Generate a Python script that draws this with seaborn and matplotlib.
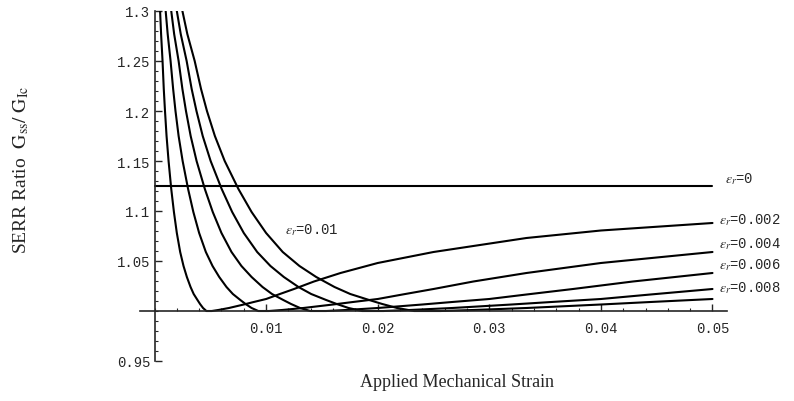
import matplotlib
matplotlib.use("Agg")
import matplotlib.pyplot as plt
import pandas as pd
import seaborn as sns
from matplotlib.ticker import MultipleLocator, FixedLocator

sns.set_style("ticks")
plt.rcParams['font.family'] = ['Liberation Mono', 'DejaVu Sans Mono']
plt.rcParams['mathtext.fontset'] = 'stix'

# residual strain levels
er_labels = ['0', '0.002', '0.004', '0.006', '0.008', '0.01']

# er = 0 : flat line
strain_er0 = [0.0, 0.05]
ratio_er0 = [1.125, 1.125]

# er = 0.002
strain_er002 = [0.0005, 0.00059, 0.00072, 0.00083, 0.00094, 0.00108, 0.00126, 0.0015, 0.00174, 0.002,
                0.0023, 0.0026, 0.0029, 0.00323, 0.00351, 0.00385, 0.00408, 0.00435, 0.00465, 0.00513,
                0.00571, 0.00667, 0.008, 0.00889, 0.01, 0.01111, 0.0125, 0.01429, 0.01667, 0.02,
                0.025, 0.03333, 0.04, 0.05]
ratio_er002 = [1.300, 1.277, 1.250, 1.222, 1.200, 1.175, 1.150, 1.122, 1.099, 1.078,
               1.059, 1.045, 1.034, 1.024, 1.017, 1.011, 1.007, 1.003, 1.000, 1.000,
               1.001, 1.003, 1.0065, 1.009, 1.012, 1.0165, 1.022, 1.0295, 1.038, 1.048,
               1.059, 1.073, 1.0805, 1.088]

# er = 0.004
strain_er004 = [0.001, 0.00118, 0.00144, 0.00167, 0.00188, 0.00216, 0.00252, 0.00301, 0.00348, 0.004,
                0.0046, 0.0052, 0.0058, 0.00645, 0.00702, 0.00769, 0.00816, 0.0087, 0.0093, 0.01026,
                0.01143, 0.01333, 0.016, 0.01778, 0.02, 0.02222, 0.025, 0.02857, 0.03333, 0.04, 0.05]
ratio_er004 = [1.300, 1.277, 1.250, 1.222, 1.200, 1.175, 1.150, 1.122, 1.099, 1.078,
               1.059, 1.045, 1.034, 1.024, 1.017, 1.011, 1.007, 1.003, 1.000, 1.000,
               1.001, 1.003, 1.0065, 1.009, 1.012, 1.0165, 1.022, 1.0295, 1.038, 1.048, 1.059]

# er = 0.006
strain_er006 = [0.0015, 0.00176, 0.00216, 0.0025, 0.00282, 0.00324, 0.00377, 0.00451, 0.00522, 0.006,
                0.0069, 0.00779, 0.0087, 0.00968, 0.01053, 0.01154, 0.01224, 0.01304, 0.01395, 0.01538,
                0.01714, 0.02, 0.024, 0.02667, 0.03, 0.03333, 0.0375, 0.04286, 0.05]
ratio_er006 = [1.300, 1.277, 1.250, 1.222, 1.200, 1.175, 1.150, 1.122, 1.099, 1.078,
               1.059, 1.045, 1.034, 1.024, 1.017, 1.011, 1.007, 1.003, 1.000, 1.000,
               1.001, 1.003, 1.0065, 1.009, 1.012, 1.0165, 1.022, 1.0295, 1.038]

# er = 0.008
strain_er008 = [0.002, 0.00235, 0.00288, 0.00333, 0.00376, 0.00432, 0.00503, 0.00602, 0.00696, 0.008,
                0.0092, 0.01039, 0.01159, 0.0129, 0.01404, 0.01538, 0.01633, 0.01739, 0.0186, 0.02051,
                0.02286, 0.02667, 0.032, 0.03556, 0.04, 0.04444, 0.05]
ratio_er008 = [1.300, 1.277, 1.250, 1.222, 1.200, 1.175, 1.150, 1.122, 1.099, 1.078,
               1.059, 1.045, 1.034, 1.024, 1.017, 1.011, 1.007, 1.003, 1.000, 1.000,
               1.001, 1.003, 1.0065, 1.009, 1.012, 1.0165, 1.022]

# er = 0.01
strain_er010 = [0.0025, 0.00294, 0.0036, 0.00417, 0.0047, 0.00541, 0.00629, 0.00752, 0.0087, 0.01,
                0.01149, 0.01299, 0.01449, 0.01613, 0.01754, 0.01923, 0.02041, 0.02174, 0.02326, 0.02564,
                0.02857, 0.03333, 0.04, 0.04444, 0.05]
ratio_er010 = [1.300, 1.277, 1.250, 1.222, 1.200, 1.175, 1.150, 1.122, 1.099, 1.078,
               1.059, 1.045, 1.034, 1.024, 1.017, 1.011, 1.007, 1.003, 1.000, 1.000,
               1.001, 1.003, 1.0065, 1.009, 1.012]

x_ticks = [0.01, 0.02, 0.03, 0.04, 0.05]
x_ticklabels = ['0.01', '0.02', '0.03', '0.04', '0.05']
y_ticks = [0.95, 1.05, 1.1, 1.15, 1.2, 1.25, 1.3]
y_ticklabels = ['0.95', '1.05', '1.1', '1.15', '1.2', '1.25', '1.3']

curves = [(strain_er0, ratio_er0), (strain_er002, ratio_er002), (strain_er004, ratio_er004),
          (strain_er006, ratio_er006), (strain_er008, ratio_er008), (strain_er010, ratio_er010)]
frames = []
for lab, (xs, ys) in zip(er_labels, curves):
    frames.append(pd.DataFrame({'strain': xs, 'ratio': ys, 'er': lab}))
df = pd.concat(frames, ignore_index=True)

fig = plt.figure(figsize=(7.94, 4.02), dpi=100)
ax = fig.add_axes([140 / 794, 40 / 402, 587 / 794, 350 / 402])

sns.lineplot(data=df, x='strain', y='ratio', units='er', estimator=None, sort=False,
             color='black', linewidth=1.5, legend=False, ax=ax)

ax.set_xlim(-0.0013, 0.0513)
ax.set_ylim(0.95, 1.3)
ax.spines['top'].set_visible(False)
ax.spines['right'].set_visible(False)
ax.spines['left'].set_position(('data', 0))
ax.spines['bottom'].set_position(('data', 1.0))
for s in ['left', 'bottom']:
    ax.spines[s].set_linewidth(1.2)

ax.xaxis.set_major_locator(FixedLocator(x_ticks))
ax.xaxis.set_minor_locator(MultipleLocator(0.002))
ax.yaxis.set_major_locator(FixedLocator(y_ticks))
ax.yaxis.set_minor_locator(MultipleLocator(0.01))
ax.set_xticklabels(x_ticklabels)
ax.set_yticklabels(y_ticklabels)
ax.tick_params(which='major', direction='in', length=5, width=1, labelsize=10)
ax.tick_params(which='minor', direction='in', length=2.5, width=0.8)
ax.tick_params(axis='x', pad=7)
ax.tick_params(axis='y', pad=3)

ax.set_xlabel('Applied Mechanical Strain', family='Liberation Serif', fontsize=13)
ax.xaxis.set_label_coords(0.54, -0.035)
ax.set_ylabel(r'SERR Ratio  $\mathrm{G}_{\mathrm{ss}}/\ \mathrm{G}_{\mathrm{Ic}}$',
              family='Liberation Serif', fontsize=14)
ax.yaxis.set_label_coords(-0.186, 0.55)

# curve labels
ax.text(0.0511, 1.133, r'$\varepsilon_r$=0', fontsize=10, va='center', ha='left')
ax.text(0.0506, 1.092, r'$\varepsilon_r$=0.002', fontsize=10, va='center', ha='left')
ax.text(0.0506, 1.068, r'$\varepsilon_r$=0.004', fontsize=10, va='center', ha='left')
ax.text(0.0506, 1.047, r'$\varepsilon_r$=0.006', fontsize=10, va='center', ha='left')
ax.text(0.0506, 1.024, r'$\varepsilon_r$=0.008', fontsize=10, va='center', ha='left')
ax.text(0.0117, 1.082, r'$\varepsilon_r$=0.01', fontsize=10, va='center', ha='left')

fig.savefig('out.png', dpi=100)
